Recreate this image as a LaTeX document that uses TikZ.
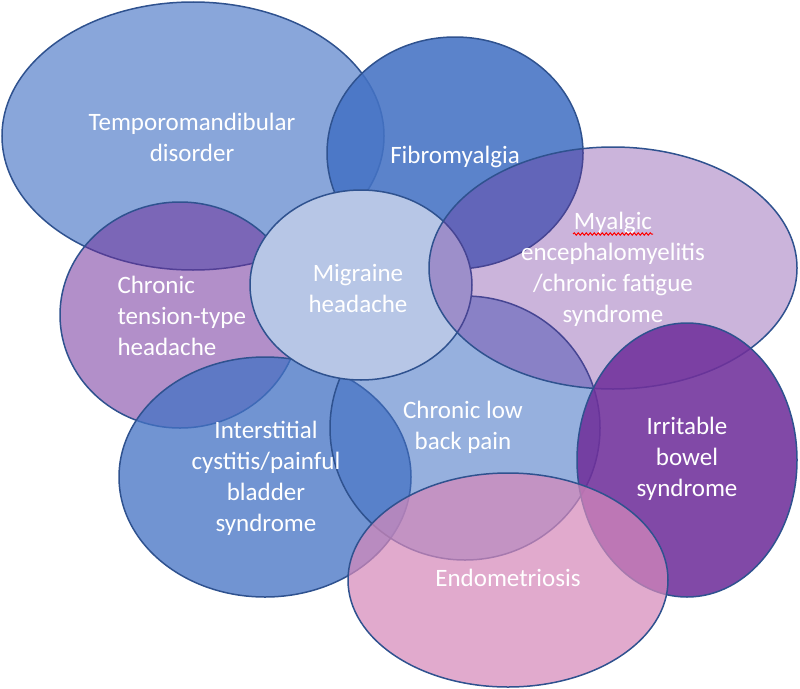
\documentclass[tikz,border=0pt]{standalone}
\usepackage{fontspec}
\setmainfont{Carlito}
\usepackage{tikz}
\usetikzlibrary{shapes.geometric,decorations.pathmorphing}
\definecolor{accblue}{RGB}{68,114,196}
\definecolor{accpurple}{RGB}{112,48,155}
\definecolor{accpink}{RGB}{213,137,186}
\definecolor{migblue}{RGB}{183,198,230}
\definecolor{rim}{RGB}{47,82,143}

\begin{document}
\begin{tikzpicture}[x=1pt,y=-1pt,
    blob/.style={ellipse,draw=rim,line width=1.5pt,inner sep=0pt,outer sep=0pt},
    lbl/.style={text=white,font=\fontsize{25}{31}\selectfont,align=center}]
\useasboundingbox (0,0) rectangle (800,688);
% the conditions, back to front
\node[blob,fill=accblue,fill opacity=0.63,minimum width=382pt,minimum height=268pt] (tmd) at (193,136) {};
\node[blob,fill=accpurple,fill opacity=0.54,minimum width=240pt,minimum height=226pt] (tension) at (180,315) {};
\node[blob,fill=accblue,fill opacity=0.88,minimum width=256pt,minimum height=232pt] (fibro) at (455,153) {};
\node[blob,fill=accblue,fill opacity=0.76,minimum width=292pt,minimum height=240pt] (cyst) at (265,477) {};
\node[blob,fill=accblue,fill opacity=0.56,minimum width=270pt,minimum height=264pt] (back) at (465,428) {};
\node[blob,fill=migblue,minimum width=222pt,minimum height=190pt] (migraine) at (361,285) {};
\node[blob,fill=accpurple,fill opacity=0.36,minimum width=368pt,minimum height=242pt] (mecfs) at (613,268) {};
\node[blob,fill=accpurple,fill opacity=0.88,minimum width=220pt,minimum height=274pt] (ibs) at (687,460) {};
\node[blob,fill=accpink,fill opacity=0.72,minimum width=320pt,minimum height=214pt] (endo) at (508,580) {};
% labels
\node[lbl] (tmdtxt) at (192,137) {Temporomandibular\\disorder};
\node[lbl] (fibrotxt) at (455,157) {Fibromyalgia};
\node[lbl] (mecfstxt) at (613,269) {Myalgic\\encephalomyelitis\\/chronic fatigue\\syndrome};
\node[lbl,align=left,anchor=west] (tensiontxt) at (114,316) {Chronic\\tension-type\\headache};
\node[lbl] (migtxt) at (358,288) {Migraine\\headache};
\node[lbl] (backtxt) at (463,427) {Chronic low\\back pain};
\node[lbl] (cysttxt) at (266,478) {Interstitial\\cystitis/painful\\bladder\\syndrome};
\node[lbl] (ibstxt) at (687,459) {Irritable\\bowel\\syndrome};
\node[lbl] (endotxt) at (508,578) {Endometriosis};
% spell-check squiggle
\coordinate (sqa) at (573,234);
\coordinate (sqb) at (653,234);
\draw[red,line width=1pt,decorate,decoration={snake,amplitude=1.2pt,segment length=4pt}] (sqa) -- (sqb);
\end{tikzpicture}
\end{document}
